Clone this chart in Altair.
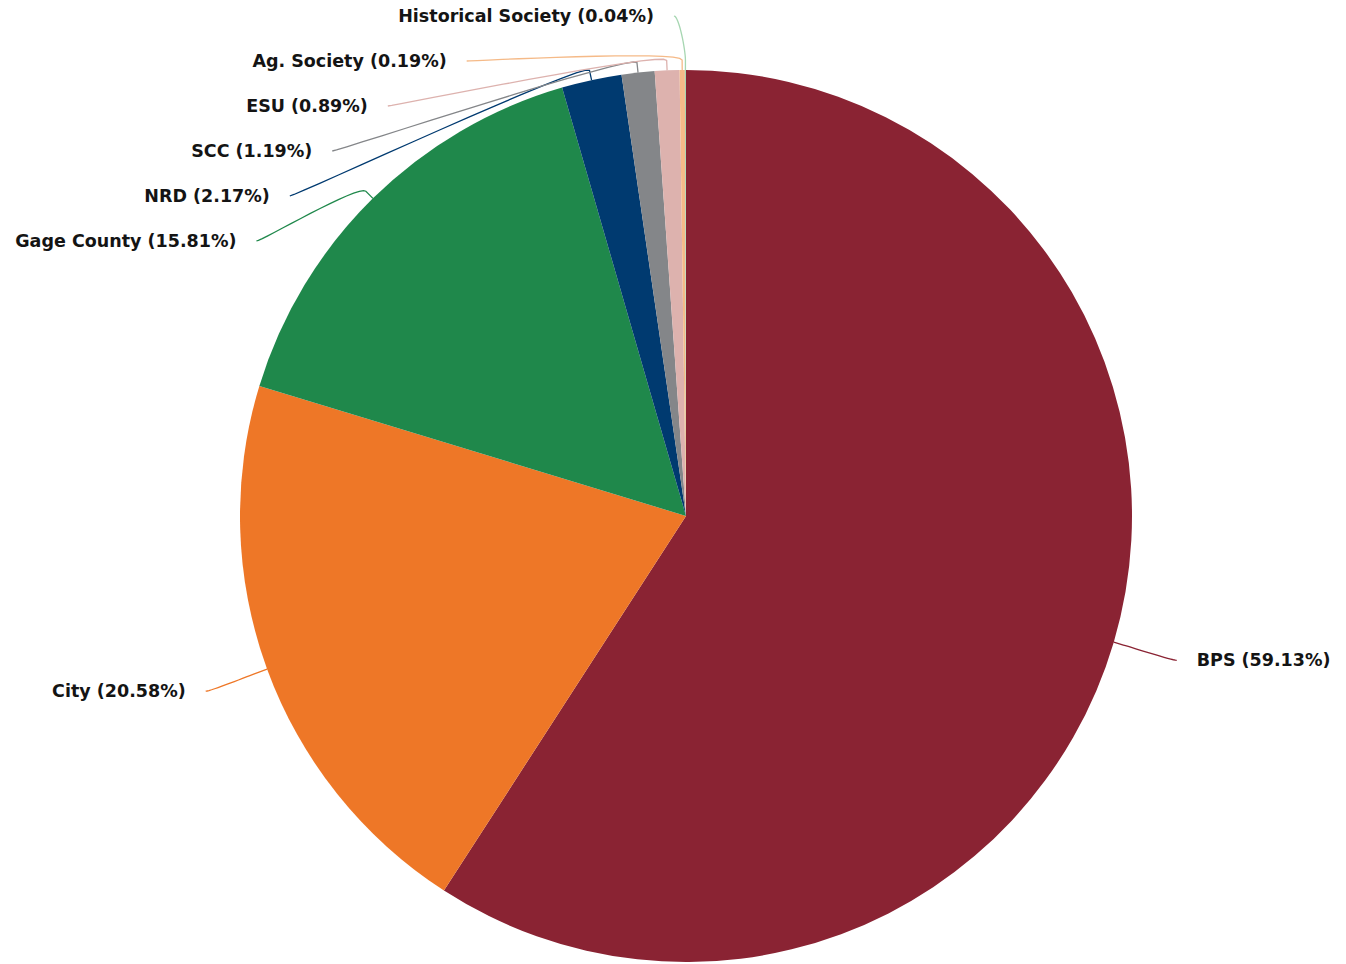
import math
import altair as alt
import pandas as pd

# ---- data ----
names = ["BPS", "City", "Gage County", "NRD", "SCC", "ESU", "Ag. Society", "Historical Society"]
shares = [59.13, 20.58, 15.81, 2.17, 1.19, 0.89, 0.19, 0.04]
colors = ["#8A2333", "#EE7727", "#1F884B", "#003A70", "#848689", "#DDB2AE", "#F5BA88", "#A6D6B1"]

# ---- layout constants (pixels) ----
W, H = 1330, 956
CX, CY = 678, 508          # pie centre inside the plot area
R_PIE = 446                # pie radius
R_BREAK = R_PIE + 10       # connector break radius
R_NAT = 510                # natural label radius
R_LBL = 500                # label circle used for x
X_EXTRA = 12
GAP = 45                   # min vertical spacing between labels
TEXT_GAP = 20

labels = [f"{n} ({v:.2f}%)" for n, v in zip(names, shares)]
total = sum(shares)

# slice mid angles
mids = []
cum = 0.0
for v in shares:
    mids.append((cum + v / 2) / total * 2 * math.pi)
    cum += v

# natural label y (down positive, relative to centre)
nat_y = [-R_NAT * math.cos(a) for a in mids]
side = ["right" if math.sin(a) >= 0 else "left" for a in mids]

lab_y = [0.0] * len(names)
for s in ("left", "right"):
    idx = sorted([i for i in range(len(names)) if side[i] == s], key=lambda i: nat_y[i])
    prev = None
    for i in idx:
        y = max(nat_y[i], -R_LBL)
        if prev is not None:
            y = max(y, prev + GAP)
        lab_y[i] = y
        prev = y

arc_rows, text_rows, line_rows = [], [], []
for i, (n, v) in enumerate(zip(names, shares)):
    arc_rows.append({"name": n, "value": v, "idx": i, "cx": 0, "cy": 0})
    a = mids[i]
    sgn = 1 if side[i] == "right" else -1
    y = lab_y[i]
    ex = sgn * (math.sqrt(max(R_LBL ** 2 - y ** 2, 0)) + X_EXTRA)
    text_rows.append({"name": n, "label": labels[i], "side": side[i],
                      "tx": ex + sgn * TEXT_GAP, "ty": y})
    tx, ty = R_PIE * math.sin(a), -R_PIE * math.cos(a)
    bx, by = R_BREAK * math.sin(a), -R_BREAK * math.cos(a)
    p0 = (ex, y)
    p1 = (ex - sgn * 5, y)
    p2 = (2 * bx - tx, 2 * by - ty)
    p3 = (bx, by)
    k = 0
    steps = 16
    for j in range(steps + 1):
        t = j / steps
        x = (1 - t) ** 3 * p0[0] + 3 * (1 - t) ** 2 * t * p1[0] + 3 * (1 - t) * t ** 2 * p2[0] + t ** 3 * p3[0]
        yy = (1 - t) ** 3 * p0[1] + 3 * (1 - t) ** 2 * t * p1[1] + 3 * (1 - t) * t ** 2 * p2[1] + t ** 3 * p3[1]
        line_rows.append({"name": n, "k": k, "px": x, "py": yy})
        k += 1
    line_rows.append({"name": n, "k": k, "px": tx, "py": ty})

arc_df = pd.DataFrame(arc_rows)
text_df = pd.DataFrame(text_rows)
line_df = pd.DataFrame(line_rows)

xs = alt.Scale(domain=[-CX, W - CX], nice=False, zero=False)
ys = alt.Scale(domain=[-CY, H - CY], nice=False, zero=False, reverse=True)
cs = alt.Scale(domain=names, range=colors)

arcs = alt.Chart(arc_df).mark_arc(radius=R_PIE, stroke=None).encode(
    x=alt.X("cx:Q", scale=xs, axis=None),
    y=alt.Y("cy:Q", scale=ys, axis=None),
    theta=alt.Theta("value:Q", stack=True),
    order=alt.Order("idx:Q"),
    color=alt.Color("name:N", scale=cs, legend=None),
)

lines = alt.Chart(line_df).mark_line(strokeWidth=1.3).encode(
    x=alt.X("px:Q", scale=xs, axis=None),
    y=alt.Y("py:Q", scale=ys, axis=None),
    detail="name:N",
    order="k:Q",
    color=alt.Color("name:N", scale=cs, legend=None),
)

font = "DejaVu Sans"
fsize = 17.5
text_left = alt.Chart(text_df).transform_filter(alt.datum.side == "left").mark_text(
    align="right", baseline="middle", font=font, fontSize=fsize, fontWeight="bold", color="#141414", dy=1
).encode(
    x=alt.X("tx:Q", scale=xs, axis=None),
    y=alt.Y("ty:Q", scale=ys, axis=None),
    text="label:N",
)
text_right = alt.Chart(text_df).transform_filter(alt.datum.side == "right").mark_text(
    align="left", baseline="middle", font=font, fontSize=fsize, fontWeight="bold", color="#141414", dy=1
).encode(
    x=alt.X("tx:Q", scale=xs, axis=None),
    y=alt.Y("ty:Q", scale=ys, axis=None),
    text="label:N",
)

chart = alt.layer(arcs, lines, text_left, text_right).properties(
    width=W, height=H, padding=0, autosize=alt.AutoSizeParams(type="none")
).configure_view(stroke=None)

chart.save("out.html", embed_options={"renderer": "svg", "actions": False})
